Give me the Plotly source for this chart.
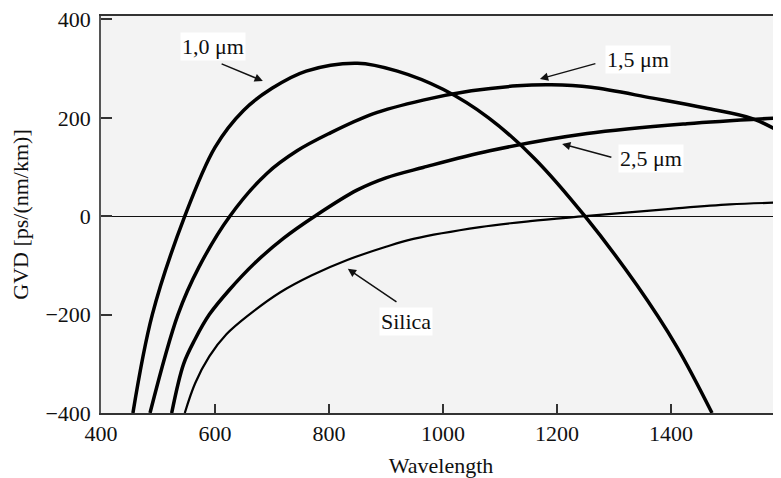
import plotly.graph_objects as go

# Wavelength (nm) and GVD (ps/(nm km))
wl_10 = [456, 490, 547, 600, 650, 700, 760, 850, 920, 1000, 1080, 1160, 1249, 1340, 1410, 1472]
gvd_10 = [-400, -200, 0, 140, 215, 260, 295, 311, 295, 258, 200, 118, 0, -140, -265, -400]

wl_15 = [486, 535, 572, 626, 691, 744, 800, 877, 965, 1050, 1130, 1190, 1260, 1368, 1460, 1544, 1593]
gvd_15 = [-400, -200, -103, 0, 87, 133, 168, 208, 236, 255, 265, 267, 262, 240, 220, 198, 170]

wl_25 = [524, 545, 565, 590, 625, 670, 720, 775, 849, 900, 965, 1082, 1253, 1428, 1593]
gvd_25 = [-400, -300, -250, -200, -150, -95, -45, 0, 53, 78, 99, 133, 168, 188, 200]

wl_si = [547, 565, 590, 620, 660, 714, 770, 832, 900, 948, 1065, 1153, 1249, 1400, 1503, 1593]
gvd_si = [-400, -340, -285, -240, -200, -155, -120, -89, -62, -46, -22, -10, 0, 15, 24, 28]

labels = ["1,0 μm", "1,5 μm", "2,5 μm", "Silica"]
# label centre, arrow tail, arrow tip (data coords)
label_pos = [(596, 345), (1342, 319), (1365, 117), (935, -214)]
arrow_tail = [(609, 311), (1270, 311), (1298, 119), (921, -176)]
arrow_tip = [(684, 275), (1170, 279), (1209, 147), (833, -107)]

x_ticks = [400, 600, 800, 1000, 1200, 1400]
y_ticks = [-400, -200, 0, 200, 400]

FONT = "Liberation Serif"

fig = go.Figure()
series = [(wl_10, gvd_10, 3.5), (wl_15, gvd_15, 3.5), (wl_25, gvd_25, 3.5), (wl_si, gvd_si, 2.2)]
for xs, ys, w in series:
    fig.add_trace(go.Scatter(x=xs, y=ys, mode="lines",
                             line=dict(color="black", width=w, shape="spline", smoothing=1.0),
                             showlegend=False, hoverinfo="skip"))

annotations = []
for txt, (lx, ly), (tx, ty), (hx, hy) in zip(labels, label_pos, arrow_tail, arrow_tip):
    annotations.append(dict(x=lx, y=ly, xref="x", yref="y", text=txt, showarrow=False,
                            font=dict(family=FONT, size=22, color="#111"), bgcolor="white"))
    annotations.append(dict(x=hx, y=hy, xref="x", yref="y", ax=tx, ay=ty, axref="x", ayref="y",
                            text="", showarrow=True, arrowhead=2, arrowsize=1.1, arrowwidth=1.5,
                            arrowcolor="#111"))

# page body has an 8px default margin, so the figure is sized to fit the 781x478 window
fig.update_layout(
    width=773, height=470,
    margin=dict(l=93, r=0, t=8, b=65),
    paper_bgcolor="white", plot_bgcolor="#f3f3f3",
    font=dict(family=FONT, size=22, color="#111"),
    annotations=annotations,
)
fig.update_xaxes(range=[400, 1593], tickvals=x_ticks, ticks="inside", ticklen=9, tickwidth=1.5,
                 tickcolor="#333", showline=True, linecolor="#333", linewidth=2, mirror=True,
                 showgrid=False, zeroline=False, automargin=False, ticklabelstandoff=0,
                 ticklabeloverflow="allow",
                 title=dict(text="Wavelength", standoff=12, font=dict(family=FONT, size=22)))
fig.update_yaxes(range=[-400, 407], tickvals=y_ticks, ticks="inside", ticklen=11, tickwidth=1.5,
                 tickcolor="#333", showline=True, linecolor="#555", linewidth=1.5,
                 showgrid=False, zeroline=True, zerolinecolor="#111", zerolinewidth=1.3,
                 automargin=False, ticklabelstandoff=4, ticklabeloverflow="allow",
                 title=dict(text="GVD [ps/(nm/km)]", standoff=12, font=dict(family=FONT, size=22)))

fig.write_html("out.html")
